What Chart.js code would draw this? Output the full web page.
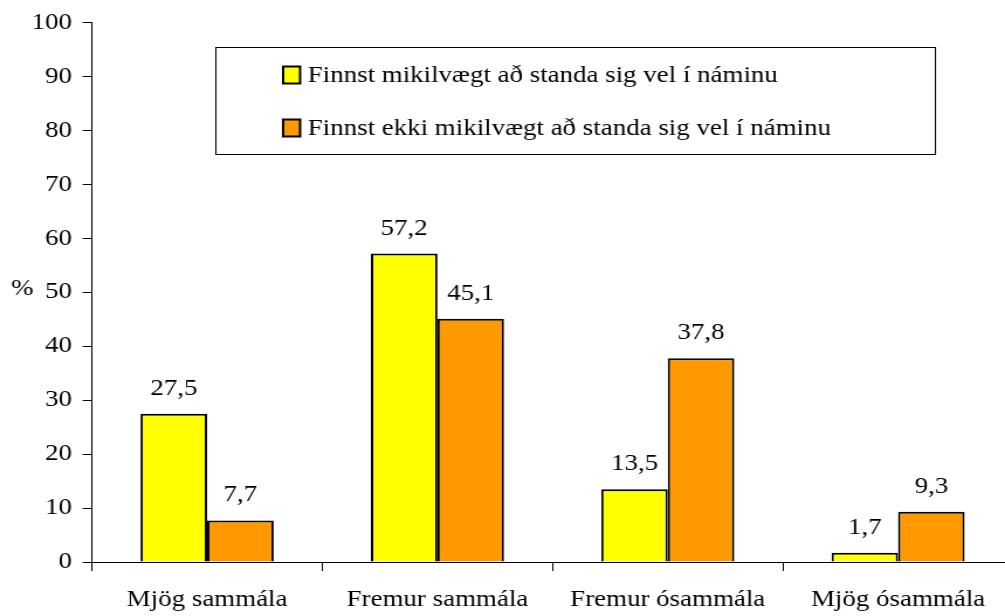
<!DOCTYPE html>
<html>
<head>
<meta charset="utf-8">
<script src="https://cdn.jsdelivr.net/npm/chart.js@4/dist/chart.umd.min.js"></script>
<style>
  html, body { margin: 0; padding: 0; background: #fff; overflow: hidden; }
  #wrap { position: absolute; left: 0; top: 0; width: 866px; height: 616px; transform: scale(1.17, 1); transform-origin: 0 0; }
</style>
</head>
<body>
<div id="wrap"><canvas id="c"></canvas></div>
<script>
const categories = ["Mjög sammála", "Fremur sammála", "Fremur ósammála", "Mjög ósammála"];
const seriesNames = ["Finnst mikilvægt að standa sig vel í náminu", "Finnst ekki mikilvægt að standa sig vel í náminu"];
const important = [27.5, 57.2, 13.5, 1.7];
const notImportant = [7.7, 45.1, 37.8, 9.3];
const yTicks = [0, 10, 20, 30, 40, 50, 60, 70, 80, 90, 100];
const yUnit = "%";

const FONT = "'Liberation Serif', 'Times New Roman', serif";
const colors = ["#FFFF00", "#FF9900"];

const extras = {
  id: 'extras',
  afterDatasetsDraw(chart) {
    const ctx = chart.ctx;
    ctx.save();
    ctx.fillStyle = '#000';
    ctx.font = '23px ' + FONT;
    ctx.textAlign = 'center';
    ctx.textBaseline = 'alphabetic';
    chart.data.datasets.forEach((ds, i) => {
      chart.getDatasetMeta(i).data.forEach((bar, j) => {
        ctx.fillText(ds.data[j].toFixed(1).replace('.', ','), bar.x, bar.y - 19);
      });
    });
    // unit label
    ctx.textAlign = 'center';
    ctx.textBaseline = 'middle';
    ctx.fillText(yUnit, 19, 289);
    // legend box
    const lx = 184, ly = 47, lw = 615, lh = 107;
    ctx.fillStyle = '#fff';
    ctx.fillRect(lx, ly, lw, lh);
    ctx.strokeStyle = '#000';
    ctx.lineWidth = 1;
    ctx.strokeRect(lx + 0.5, ly + 0.5, lw, lh);
    const rows = [75, 128];
    chart.data.datasets.forEach((ds, i) => {
      const cy = rows[i];
      ctx.fillStyle = ds.backgroundColor;
      ctx.fillRect(242, cy - 8.5, 14.5, 17);
      ctx.lineWidth = 2;
      ctx.strokeStyle = '#000';
      ctx.strokeRect(242, cy - 8.5, 14.5, 17);
      ctx.fillStyle = '#000';
      ctx.textAlign = 'left';
      ctx.textBaseline = 'middle';
      ctx.fillText(ds.label, 263, cy + 1);
    });
    ctx.restore();
  }
};

new Chart(document.getElementById('c'), {
  type: 'bar',
  data: {
    labels: categories,
    datasets: [
      { label: seriesNames[0], data: important, backgroundColor: colors[0], borderColor: '#000', borderWidth: 2 },
      { label: seriesNames[1], data: notImportant, backgroundColor: colors[1], borderColor: '#000', borderWidth: 2 }
    ]
  },
  options: {
    responsive: true,
    maintainAspectRatio: false,
    animation: false,
    devicePixelRatio: 1,
    layout: { padding: { top: 21, left: 0, right: 0, bottom: 0 } },
    plugins: { legend: { display: false }, tooltip: { enabled: false } },
    datasets: { bar: { categoryPercentage: 0.578, barPercentage: 1 } },
    scales: {
      x: {
        offset: true,
        grid: { offset: true, drawOnChartArea: false, drawTicks: true, tickLength: 9, color: '#000' },
        border: { display: true, color: '#000', width: 1 },
        ticks: { color: '#000', font: { family: FONT, size: 23 }, padding: 15, maxRotation: 0, autoSkip: false },
        afterFit(scale) { scale.height = 54; }
      },
      y: {
        min: 0, max: 100,
        afterBuildTicks(scale) { scale.ticks = yTicks.map(v => ({ value: v })); },
        grid: { drawOnChartArea: false, drawTicks: true, tickLength: 8, color: '#000' },
        border: { display: true, color: '#000', width: 1 },
        ticks: { color: '#000', font: { family: FONT, size: 23 }, padding: 9 },
        afterFit(scale) { scale.width = 78.6; }
      }
    }
  },
  plugins: [extras]
});
</script>
</body>
</html>
